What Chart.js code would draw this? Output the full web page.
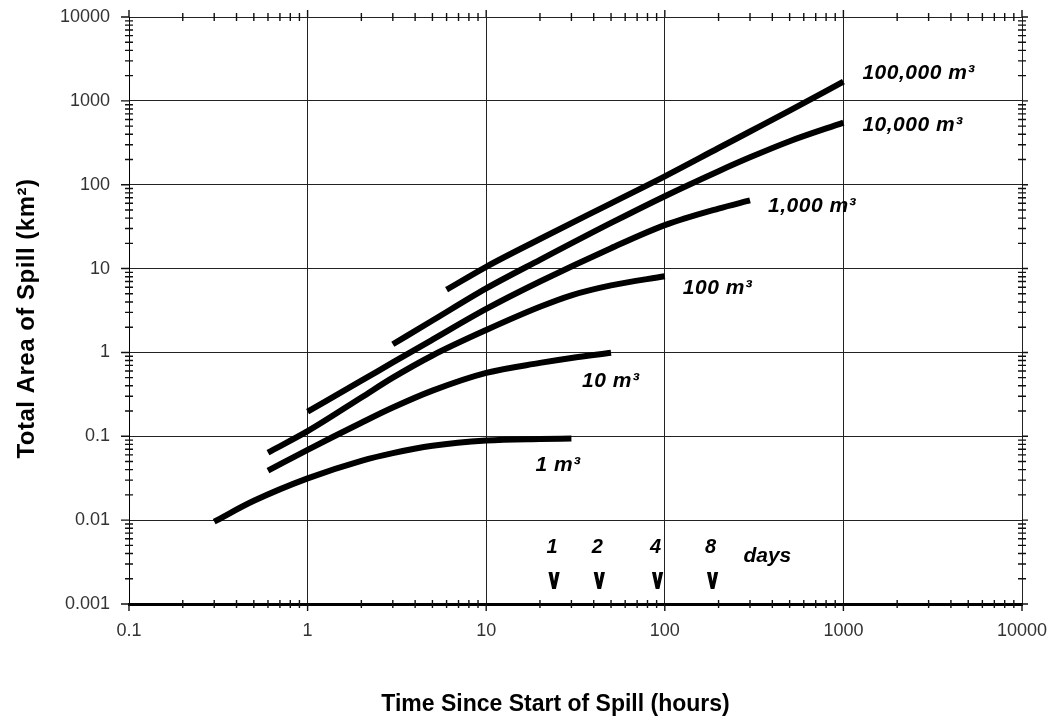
<!DOCTYPE html>
<html>
<head>
<meta charset="utf-8">
<script src="https://cdn.jsdelivr.net/npm/chart.js@4"></script>
<style>
  html, body { margin: 0; padding: 0; background: #fff; }
</style>
</head>
<body>
<canvas id="myChart" width="1053" height="719"></canvas>
<script>
// axis ticks (decades only)
const xTicks = [0.1, 1, 10, 100, 1000, 10000];
const xTickLabels = ['0.1', '1', '10', '100', '1000', '10000'];
const yTicks = [0.001, 0.01, 0.1, 1, 10, 100, 1000, 10000];
const yTickLabels = ['0.001', '0.01', '0.1', '1', '10', '100', '1000', '10000'];

// spill volumes
const seriesNames = ['1 m³', '10 m³', '100 m³', '1,000 m³', '10,000 m³', '100,000 m³'];

// hours / km2
const hours1 = [0.3, 0.5, 1, 2, 3, 5, 10, 20, 30];
const area1 = [0.0096, 0.017, 0.0315, 0.051, 0.063, 0.077, 0.089, 0.093, 0.094];
const hours10 = [0.6, 1, 2, 3, 5, 10, 20, 30, 50];
const area10 = [0.039, 0.069, 0.145, 0.22, 0.35, 0.57, 0.75, 0.86, 0.99];
const hours100 = [0.6, 1, 2, 3, 5, 10, 20, 30, 50, 100];
const area100 = [0.064, 0.115, 0.29, 0.5, 0.92, 1.85, 3.5, 4.8, 6.3, 8.1];
const hours1000 = [1, 2, 3, 5, 10, 20, 50, 100, 200, 300];
const area1000 = [0.197, 0.46, 0.76, 1.42, 3.3, 7.0, 17.5, 33, 52, 65];
const hours10000 = [3, 5, 10, 20, 50, 100, 200, 300, 500, 1000];
const area10000 = [1.25, 2.4, 5.8, 12.7, 35, 73, 145, 212, 330, 550];
const hours100000 = [6, 10, 20, 50, 100, 200, 300, 500, 1000];
const area100000 = [5.6, 10.5, 22.5, 60, 126, 274, 431, 764, 1700];

// "days" markers along the time axis
const dayHours = [24, 43, 91, 185];
const dayLabels = ['1', '2', '4', '8'];

const allHours = [hours1, hours10, hours100, hours1000, hours10000, hours100000];
const allAreas = [area1, area10, area100, area1000, area10000, area100000];

const FONT = '"Liberation Sans", Arial, sans-serif';

// where each volume label sits relative to the end of its curve (px)
const labelOffsets = [[-36, 27], [-29, 28], [18, 12], [18, 6], [19, 3], [19, -8]];

const decorations = {
    id: 'decorations',
    afterDraw(chart) {
        const { ctx, chartArea: a, scales: { x, y } } = chart;
        ctx.save();

        // minor + major tick marks on all four sides
        ctx.strokeStyle = '#111';
        ctx.lineWidth = 1.4;
        ctx.beginPath();
        for (let i = 0; i < xTicks.length; i++) {
            const d = xTicks[i];
            const px = x.getPixelForValue(d);
            ctx.moveTo(px, a.top - 7); ctx.lineTo(px, a.top);
            ctx.moveTo(px, a.bottom); ctx.lineTo(px, a.bottom + 7);
            if (i === xTicks.length - 1) break;
            for (let k = 2; k <= 9; k++) {
                const p = x.getPixelForValue(k * d);
                ctx.moveTo(p, a.top - 4); ctx.lineTo(p, a.top + 4);
                ctx.moveTo(p, a.bottom - 4); ctx.lineTo(p, a.bottom + 4);
            }
        }
        for (let i = 0; i < yTicks.length; i++) {
            const d = yTicks[i];
            const py = y.getPixelForValue(d);
            ctx.moveTo(a.left - 8, py); ctx.lineTo(a.left, py);
            ctx.moveTo(a.right, py); ctx.lineTo(a.right + 6, py);
            if (i === yTicks.length - 1) break;
            for (let k = 2; k <= 9; k++) {
                const p = y.getPixelForValue(k * d);
                ctx.moveTo(a.left - 4, p); ctx.lineTo(a.left + 4, p);
                ctx.moveTo(a.right - 4, p); ctx.lineTo(a.right + 4, p);
            }
        }
        ctx.stroke();

        ctx.fillStyle = '#000';
        ctx.textBaseline = 'middle';

        // axis titles
        ctx.textAlign = 'center';
        ctx.font = 'bold 23px ' + FONT;
        ctx.fillText('Time Since Start of Spill (hours)', (a.left + a.right) / 2 - 20, chart.height - 14);
        ctx.save();
        ctx.translate(27, (a.top + a.bottom) / 2 + 8);
        ctx.rotate(-Math.PI / 2);
        ctx.font = 'bold 24px ' + FONT;
        ctx.letterSpacing = '0.5px';
        ctx.fillText('Total Area of Spill (km²)', 0, 0);
        ctx.restore();

        // volume labels next to curve ends
        ctx.font = 'italic bold 21px ' + FONT;
        ctx.letterSpacing = '0.5px';
        ctx.textAlign = 'left';
        chart.data.datasets.forEach((ds, i) => {
            const pts = chart.getDatasetMeta(i).data;
            const last = pts[pts.length - 1];
            ctx.fillText(seriesNames[i], last.x + labelOffsets[i][0], last.y + labelOffsets[i][1]);
        });
        ctx.letterSpacing = '0px';

        // day markers
        ctx.textAlign = 'center';
        dayHours.forEach((h, i) => {
            const px = x.getPixelForValue(h);
            ctx.font = 'italic bold 20px ' + FONT;
            ctx.textBaseline = 'middle';
            ctx.fillText(dayLabels[i], px - 2, y.getPixelForValue(0.0047));
            ctx.save();
            ctx.translate(px, y.getPixelForValue(0.0019) + 7);
            ctx.scale(0.62, 1);
            ctx.font = 'bold 28px ' + FONT;
            ctx.textBaseline = 'alphabetic';
            ctx.lineWidth = 2;
            ctx.strokeStyle = '#000';
            ctx.strokeText('v', 0, 0);
            ctx.fillText('v', 0, 0);
            ctx.restore();
        });
        ctx.textBaseline = 'middle';
        ctx.font = 'italic bold 21px ' + FONT;
        ctx.fillText('days', x.getPixelForValue(375), y.getPixelForValue(0.0037));

        ctx.restore();
    }
};

const ctx = document.getElementById('myChart').getContext('2d');
const myChart = new Chart(ctx, {
    type: 'line',
    data: {
        datasets: seriesNames.map((name, i) => ({
            label: name,
            data: allHours[i].map((h, j) => ({ x: h, y: allAreas[i][j] })),
            borderColor: '#000',
            backgroundColor: '#000',
            borderWidth: 6,
            pointRadius: 0,
            fill: false,
            cubicInterpolationMode: 'monotone',
        }))
    },
    options: {
        responsive: false,
        animation: false,
        layout: { padding: { left: 10, right: 31, top: 17, bottom: 0 } },
        scales: {
            x: {
                type: 'logarithmic',
                min: 0.1,
                max: 10000,
                afterBuildTicks: s => { s.ticks = xTicks.map(v => ({ value: v })); },
                afterFit: s => {
                    s.height = 719 - 604;
                    s.paddingLeft = 0;
                    s.paddingRight = 0;
                },
                ticks: {
                    callback: (v, i) => xTickLabels[i],
                    font: { family: FONT, size: 18 },
                    color: '#333',
                    padding: 16,
                    maxRotation: 0,
                    autoSkip: false,
                },
                grid: { color: '#222', lineWidth: 1, drawTicks: false },
                border: { color: '#000', width: 3 },
            },
            y: {
                type: 'logarithmic',
                min: 0.001,
                max: 10000,
                afterBuildTicks: s => { s.ticks = yTicks.map(v => ({ value: v })); },
                afterFit: s => {
                    s.width = 129 - 10;
                    s.paddingTop = 0;
                    s.paddingBottom = 0;
                },
                ticks: {
                    callback: (v, i) => yTickLabels[i],
                    font: { family: FONT, size: 18 },
                    color: '#333',
                    padding: 19,
                    autoSkip: false,
                },
                grid: { color: '#222', lineWidth: 1, drawTicks: false },
                border: { color: '#000', width: 1 },
            },
        },
        plugins: {
            legend: { display: false },
            tooltip: { enabled: false },
        },
    },
    plugins: [decorations],
});
</script>
</body>
</html>
